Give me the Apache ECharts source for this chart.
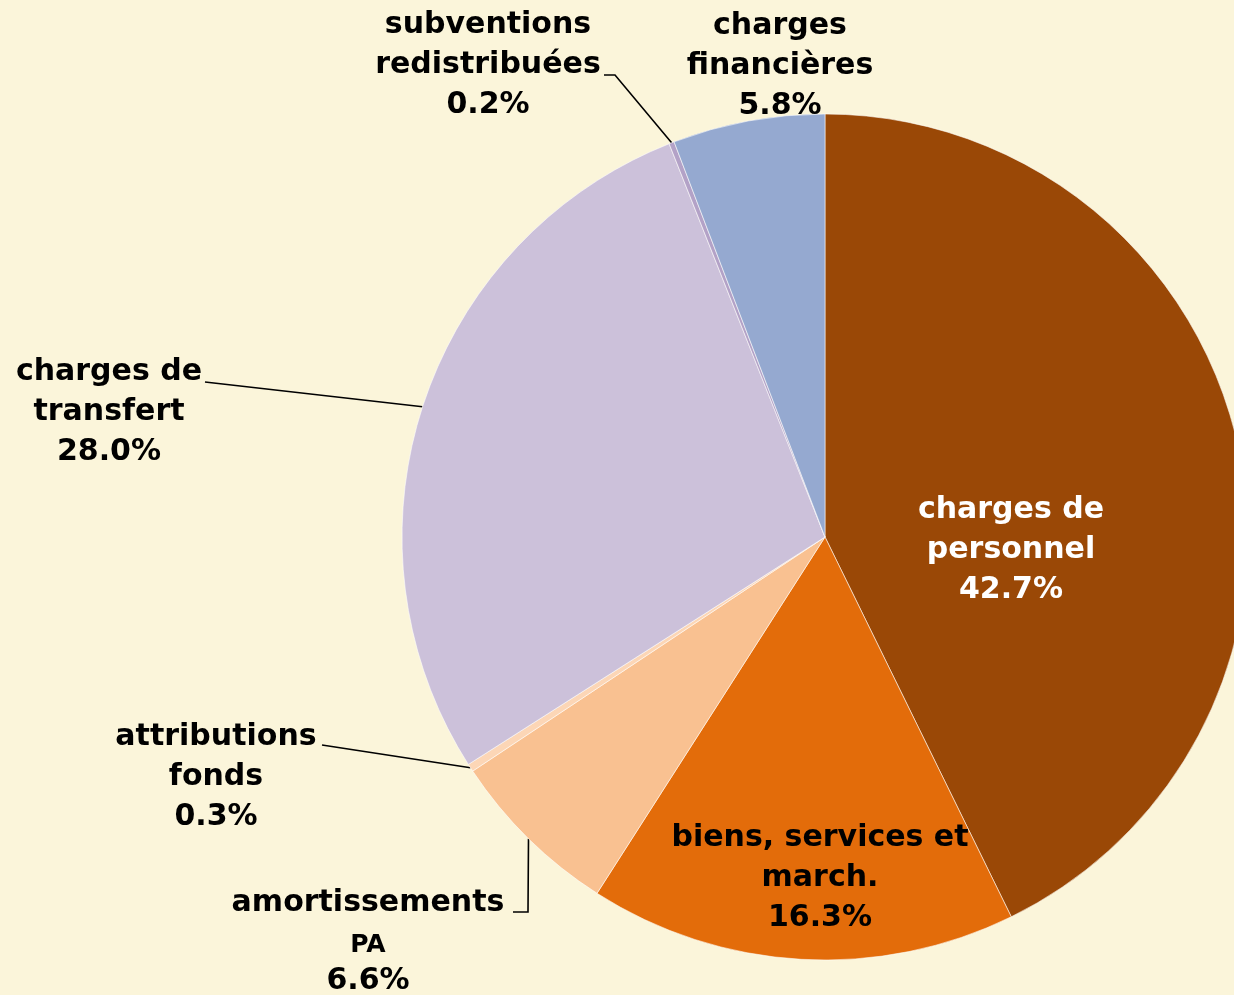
<!DOCTYPE html>
<html>
<head>
<meta charset="utf-8">
<script src="https://cdn.jsdelivr.net/npm/echarts@6/dist/echarts.min.js"></script>
<style>
html, body { margin: 0; padding: 0; background: #FBF5DA; }
#chart { width: 1234px; height: 995px; }
</style>
</head>
<body>
<div id="chart"></div>
<script>
// parts of the expenses, in %
var names = ['charges de\npersonnel', 'biens, services et\nmarch.', 'amortissements\nPA', 'attributions\nfonds', 'charges de\ntransfert', 'subventions\nredistribuées', 'charges\nfinancières'];
var values = [42.7, 16.3, 6.6, 0.3, 28.0, 0.2, 5.8];
var colors = ['#9A4806', '#E36C0A', '#F9C191', '#FCD6B6', '#CCC1DA', '#B3A2C7', '#95A9D0'];

// where each label goes: x, y, vertical align, end of guide line
var labelPos = [
	{x: 1011, y: 550, v: 'middle', color: '#fff'},
	{x: 820, y: 878, v: 'middle'},
	{x: 368, y: 877, v: 'top', guide: [[528, 912], [513, 912]]},
	{x: 216, y: 777, v: 'middle', guide: [[322, 745]]},
	{x: 109, y: 412, v: 'middle', guide: [[205, 382]]},
	{x: 488, y: 65, v: 'middle', guide: [[615, 75], [604, 75]]},
	{x: 780, y: 66, v: 'middle'}
];

var myChart = echarts.init(document.getElementById('chart'));

var data = [];
for (var i = 0; i < names.length; i++) {
	data.push({
		name: names[i],
		value: values[i],
		itemStyle: { color: colors[i] },
		label: { color: labelPos[i].color || '#000' },
		labelLine: { show: !!labelPos[i].guide }
	});
}

var option = {
	backgroundColor: '#FBF5DA',
	animation: false,
	series: [
		{
			type: 'pie',
			center: [825, 537],
			radius: 423,
			startAngle: 90,
			avoidLabelOverlap: false,
			itemStyle: {
				borderColor: 'rgba(255,255,255,0.55)',
				borderWidth: 1
			},
			label: {
				show: true,
				position: 'outside',
				fontFamily: 'DejaVu Sans',
				fontWeight: 'bold',
				fontSize: 30,
				lineHeight: 40,
				formatter: function(p) {
					var lines = p.name.split('\n');
					var out = [];
					for (var k = 0; k < lines.length; k++) {
						if (p.dataIndex == 2 && k == 1) {
							out.push('{s|' + lines[k] + '}');
						} else if (p.dataIndex == 2) {
							out.push('{a|' + lines[k] + '}');
						} else {
							out.push(lines[k]);
						}
					}
					var pct = p.value.toFixed(1) + '%';
					out.push(p.dataIndex == 2 ? '{b|' + pct + '}' : pct);
					return out.join('\n');
				},
				rich: {
					a: { fontFamily: 'DejaVu Sans', fontWeight: 'bold', fontSize: 30, lineHeight: 52 },
					s: { fontFamily: 'DejaVu Sans', fontWeight: 'bold', fontSize: 25, lineHeight: 32 },
					b: { fontFamily: 'DejaVu Sans', fontWeight: 'bold', fontSize: 30, lineHeight: 40 }
				}
			},
			labelLine: {
				lineStyle: { color: '#000', width: 1.6 }
			},
			labelLayout: function(params) {
				var lp = labelPos[params.dataIndex];
				var res = { x: lp.x, y: lp.y, align: 'center', verticalAlign: lp.v };
				if (lp.guide) {
					var start = params.labelLinePoints ? params.labelLinePoints[0] : lp.guide[0];
					res.labelLinePoints = [start].concat(lp.guide);
				}
				return res;
			},
			data: data
		}
	]
};
myChart.setOption(option);
</script>
</body>
</html>
